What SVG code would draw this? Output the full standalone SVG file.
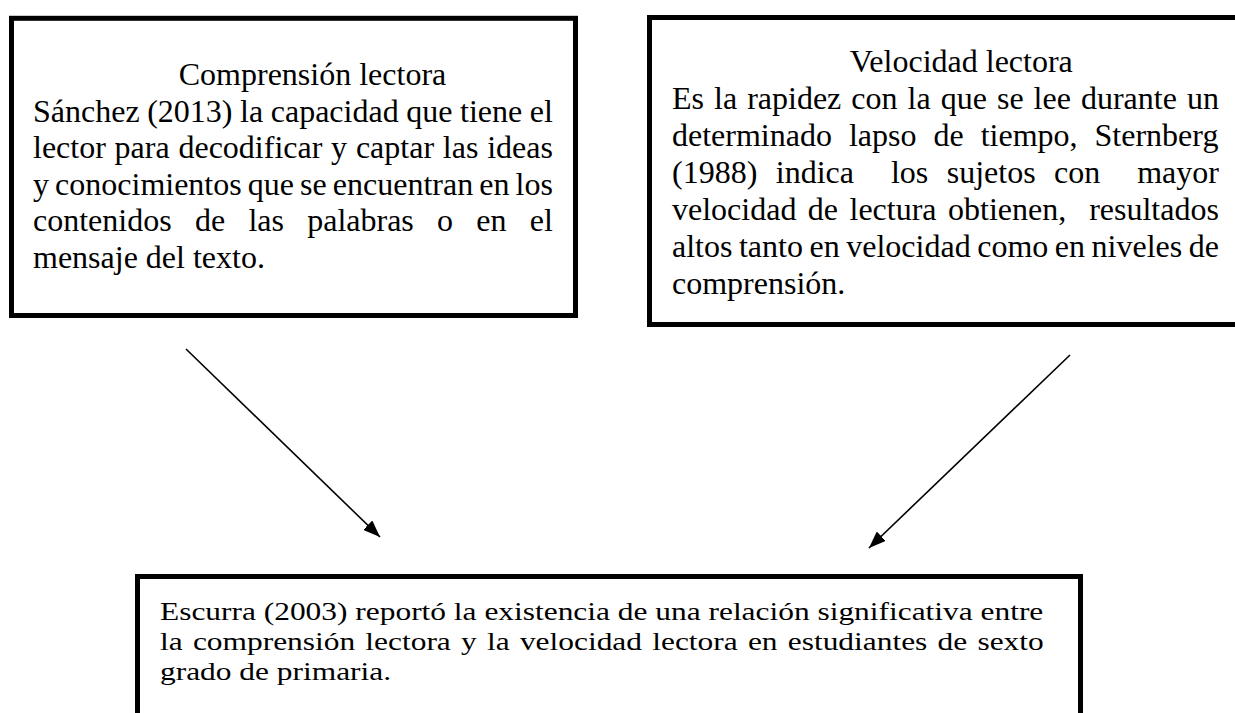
<svg xmlns="http://www.w3.org/2000/svg" width="1235" height="713" viewBox="0 0 1235 713">
  <defs>
    <style>
      .box { fill: #ffffff; stroke: #000000; stroke-width: 5; }
      .t { font-family: "Liberation Serif", "Times New Roman", serif; font-size: 32px; fill: #000000; }
      .tb { font-family: "Liberation Serif", "Times New Roman", serif; font-size: 26px; fill: #000000; }
      .conn { stroke: #000000; stroke-width: 1.6; fill: none; }
    </style>
    <marker id="arrow" markerUnits="userSpaceOnUse" markerWidth="17" markerHeight="13" refX="17" refY="6.5" orient="auto">
      <path d="M0,0 L17,6.5 L0,13 Z" fill="#000000"/>
    </marker>
  </defs>
  <rect x="0" y="0" width="1235" height="713" fill="#ffffff"/>

  <g id="node-comprension">
    <rect class="box" x="11.5" y="18.3" width="564" height="297.2"/>
    <text class="t" x="312.5" y="85" text-anchor="middle">Comprensión lectora</text>
    <text class="t" x="33" y="121.5" word-spacing="-0.42">Sánchez (2013) la capacidad que tiene el</text>
    <text class="t" x="33" y="158" word-spacing="0.77">lector para decodificar y captar las ideas</text>
    <text class="t" x="33" y="194.5" word-spacing="-1.92">y conocimientos que se encuentran en los</text>
    <text class="t" x="33" y="231" word-spacing="15.27">contenidos de las palabras o en el</text>
    <text class="t" x="33" y="267.5">mensaje del texto.</text>
  </g>

  <g id="node-velocidad">
    <rect class="box" x="649.5" y="17.5" width="700" height="307"/>
    <text class="t" x="961.3" y="72" text-anchor="middle">Velocidad lectora</text>
    <text class="t" x="672" y="109" word-spacing="2.03">Es la rapidez con la que se lee durante un</text>
    <text class="t" x="672" y="146" word-spacing="9.0">determinado lapso de tiempo, Sternberg</text>
    <text class="t" x="672" y="183" word-spacing="10.47" xml:space="preserve">(1988) indica  los sujetos con  mayor</text>
    <text class="t" x="672" y="220" word-spacing="3.46" xml:space="preserve">velocidad de lectura obtienen,  resultados</text>
    <text class="t" x="672" y="257" word-spacing="-1.46">altos tanto en velocidad como en niveles de</text>
    <text class="t" x="672" y="294">comprensión.</text>
  </g>

  <g id="node-escurra">
    <rect class="box" x="137.5" y="576.5" width="943" height="250"/>
    <g transform="translate(160,0) scale(1.208,1)">
      <text class="tb" x="0" y="620">Escurra (2003) reportó la existencia de una relación significativa entre</text>
      <text class="tb" x="0" y="650" word-spacing="1.98">la comprensión lectora y la velocidad lectora en estudiantes de sexto</text>
      <text class="tb" x="0" y="680">grado de primaria.</text>
    </g>
  </g>

  <g id="connectors">
    <line class="conn" x1="186" y1="349" x2="380" y2="537" marker-end="url(#arrow)"/>
    <line class="conn" x1="1070" y1="355" x2="869" y2="548" marker-end="url(#arrow)"/>
  </g>
</svg>
